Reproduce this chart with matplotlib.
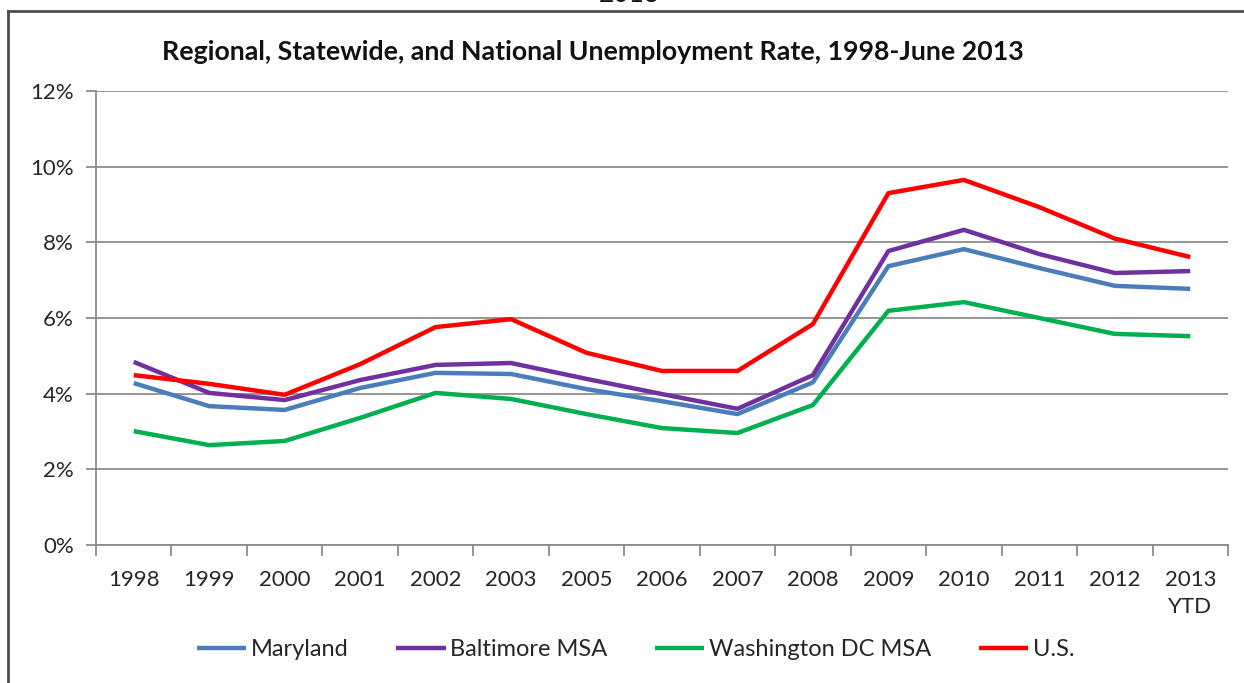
import matplotlib.pyplot as plt
from matplotlib.lines import Line2D
from matplotlib.ticker import FuncFormatter

plt.rcParams['font.family'] = ['Lato', 'DejaVu Sans']

years = ['1998', '1999', '2000', '2001', '2002', '2003', '2005', '2006',
         '2007', '2008', '2009', '2010', '2011', '2012', '2013\nYTD']

maryland = [4.28, 3.67, 3.57, 4.15, 4.55, 4.52, 4.12, 3.80,
            3.46, 4.30, 7.37, 7.82, 7.32, 6.85, 6.77]
baltimore = [4.84, 4.02, 3.83, 4.36, 4.76, 4.81, 4.39, 3.99,
             3.60, 4.49, 7.77, 8.33, 7.69, 7.19, 7.24]
washington = [3.01, 2.64, 2.75, 3.36, 4.02, 3.86, 3.46, 3.09,
              2.96, 3.70, 6.19, 6.42, 6.00, 5.58, 5.52]
us = [4.49, 4.26, 3.97, 4.78, 5.76, 5.97, 5.08, 4.60,
      4.60, 5.84, 9.30, 9.65, 8.93, 8.10, 7.61]

series = [('Maryland', maryland, '#4a7ebb'),
          ('Baltimore MSA', baltimore, '#7030a0'),
          ('Washington DC MSA', washington, '#00b050'),
          ('U.S.', us, '#ff0000')]

fig = plt.figure(figsize=(12.44, 6.83), dpi=100)
ax = fig.add_axes([96 / 1244, 1 - 545 / 683, 1132 / 1244, 454 / 683])

x = range(len(years))
for name, vals, col in series:
    ax.plot(x, vals, color=col, lw=3.2, label=name, solid_joinstyle='round',
            solid_capstyle='butt', zorder=3)

ax.set_xlim(-0.5, len(years) - 0.5)
ax.set_ylim(0, 12)
ax.set_yticks(range(0, 13, 2))
ax.yaxis.set_major_formatter(FuncFormatter(lambda v, p: f'{v:.0f}%'))
ax.set_xticks(x)
ax.set_xticklabels(years, linespacing=1.45)
ax.set_xticks([i - 0.5 for i in range(len(years) + 1)], minor=True)

ax.grid(axis='y', color='#8c8c8c', lw=1.3)
ax.set_axisbelow(True)
for s in ['top', 'right']:
    ax.spines[s].set_visible(False)
for s in ['left', 'bottom']:
    ax.spines[s].set_color('#8c8c8c')
    ax.spines[s].set_linewidth(1.3)

ax.tick_params(axis='y', length=7, width=1.3, color='#8c8c8c', pad=9,
               labelsize=16, labelcolor='#262626')
ax.tick_params(axis='x', which='major', length=0, pad=18,
               labelsize=16, labelcolor='#262626')
ax.tick_params(axis='x', which='minor', length=8, width=1.3, color='#8c8c8c')

fig.text(0.4765, 1 - 52 / 683, 'Regional, Statewide, and National Unemployment Rate, 1998-June 2013',
         ha='center', va='center', fontsize=19.3, fontweight='bold', color='#111111')

# heading of the page above, partly cut off
fig.text(0.506, 1 + 5 / 683, '2013', ha='center', va='center', fontsize=19, color='#111111')

# frame around the chart
fig.add_artist(Line2D([8 / 1244, 1], [1 - 11 / 683, 1 - 11 / 683],
                      transform=fig.transFigure, color='#4d4d4d', lw=2))
fig.add_artist(Line2D([8 / 1244, 8 / 1244], [0, 1 - 11 / 683],
                      transform=fig.transFigure, color='#4d4d4d', lw=2))

fig.legend(loc='center', bbox_to_anchor=(0.511, 1 - 650 / 683), ncol=4,
           frameon=False, fontsize=17, handlelength=2.1, handletextpad=0.2,
           columnspacing=2.0, labelcolor='#262626')

fig.savefig('out.png', dpi=100)
